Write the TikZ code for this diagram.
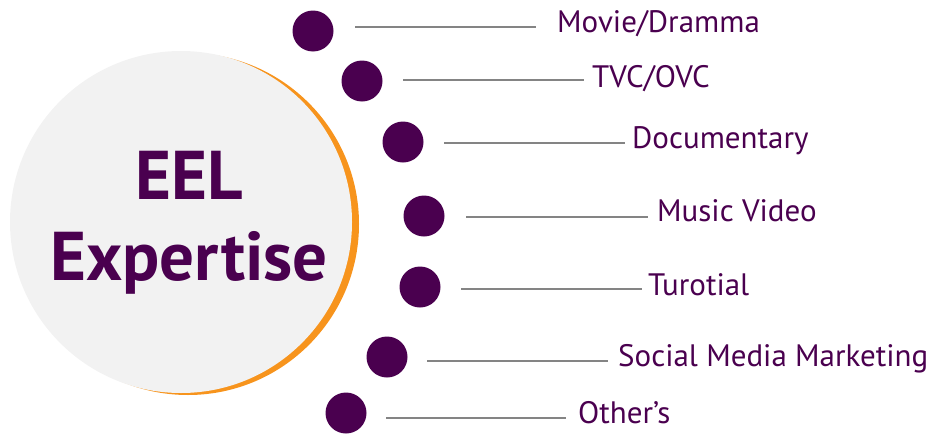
\documentclass[tikz,border=0pt]{standalone}
\usepackage{fontspec}
\setmainfont{PT Sans}
\definecolor{eelpurple}{HTML}{4A004F}
\definecolor{eelorange}{HTML}{F7941D}
\definecolor{eelgrey}{HTML}{F2F2F2}
\definecolor{stickgrey}{HTML}{848484}
\tikzset{
	hub/.style     = {circle, inner sep=0pt, minimum size=342pt},
	bullet/.style  = {circle, fill=eelpurple, inner sep=0pt, minimum size=41pt},
	topic/.style   = {anchor=base west, inner sep=0pt, text=eelpurple,
		font=\fontsize{31}{36}\selectfont},
	title/.style   = {anchor=base, inner sep=0pt, text=eelpurple,
		font=\fontsize{69}{80}\selectfont\bfseries},
	stick/.style   = {draw=stickgrey, line width=2.6pt}
}

\begin{document}
\begin{tikzpicture}[x=1pt, y=-1pt]
	\useasboundingbox (0,0) rectangle (932,434);
	% centre circle with its orange rim
	\node [hub, fill=eelorange] at (188,224) (rim) {};
	\node [hub, fill=eelgrey] at (181,222) (hub) {};
	\node [title] at (189,199) (eel) {EEL};
	\node [title] at (189,280) (expertise) {Expertise};
	% the bullets
	\node [bullet] at (313,31)  (b1) {};
	\node [bullet] at (362,81)  (b2) {};
	\node [bullet] at (403,142) (b3) {};
	\node [bullet] at (424,216) (b4) {};
	\node [bullet] at (420,287) (b5) {};
	\node [bullet] at (387,357) (b6) {};
	\node [bullet] at (346,413) (b7) {};
	% the topics
	\node [topic] at (557,32)  (movie) {Movie/Dramma};
	\node [topic] at (592,87)  (tvc) {TVC/OVC};
	\node [topic] at (632,148) (docu) {Documentary};
	\node [topic] at (657,221) (music) {Music Video};
	\node [topic] at (648,295) (tuto) {Turotial};
	\node [topic] at (618,366) (social) {Social Media Marketing};
	\node [topic] at (578,423) (others) {Other’s};
	% sticks
	\coordinate (s1) at (355,27);  \coordinate (e1) at (536,27);
	\coordinate (s2) at (403,80);  \coordinate (e2) at (584,80);
	\coordinate (s3) at (444,143); \coordinate (e3) at (625,143);
	\coordinate (s4) at (466,217); \coordinate (e4) at (648,217);
	\coordinate (s5) at (461,289); \coordinate (e5) at (642,289);
	\coordinate (s6) at (427,361); \coordinate (e6) at (608,361);
	\coordinate (s7) at (386,418); \coordinate (e7) at (566,418);
	\draw [stick] (s1) -- (e1);
	\draw [stick] (s2) -- (e2);
	\draw [stick] (s3) -- (e3);
	\draw [stick] (s4) -- (e4);
	\draw [stick] (s5) -- (e5);
	\draw [stick] (s6) -- (e6);
	\draw [stick] (s7) -- (e7);
\end{tikzpicture}
\end{document}
